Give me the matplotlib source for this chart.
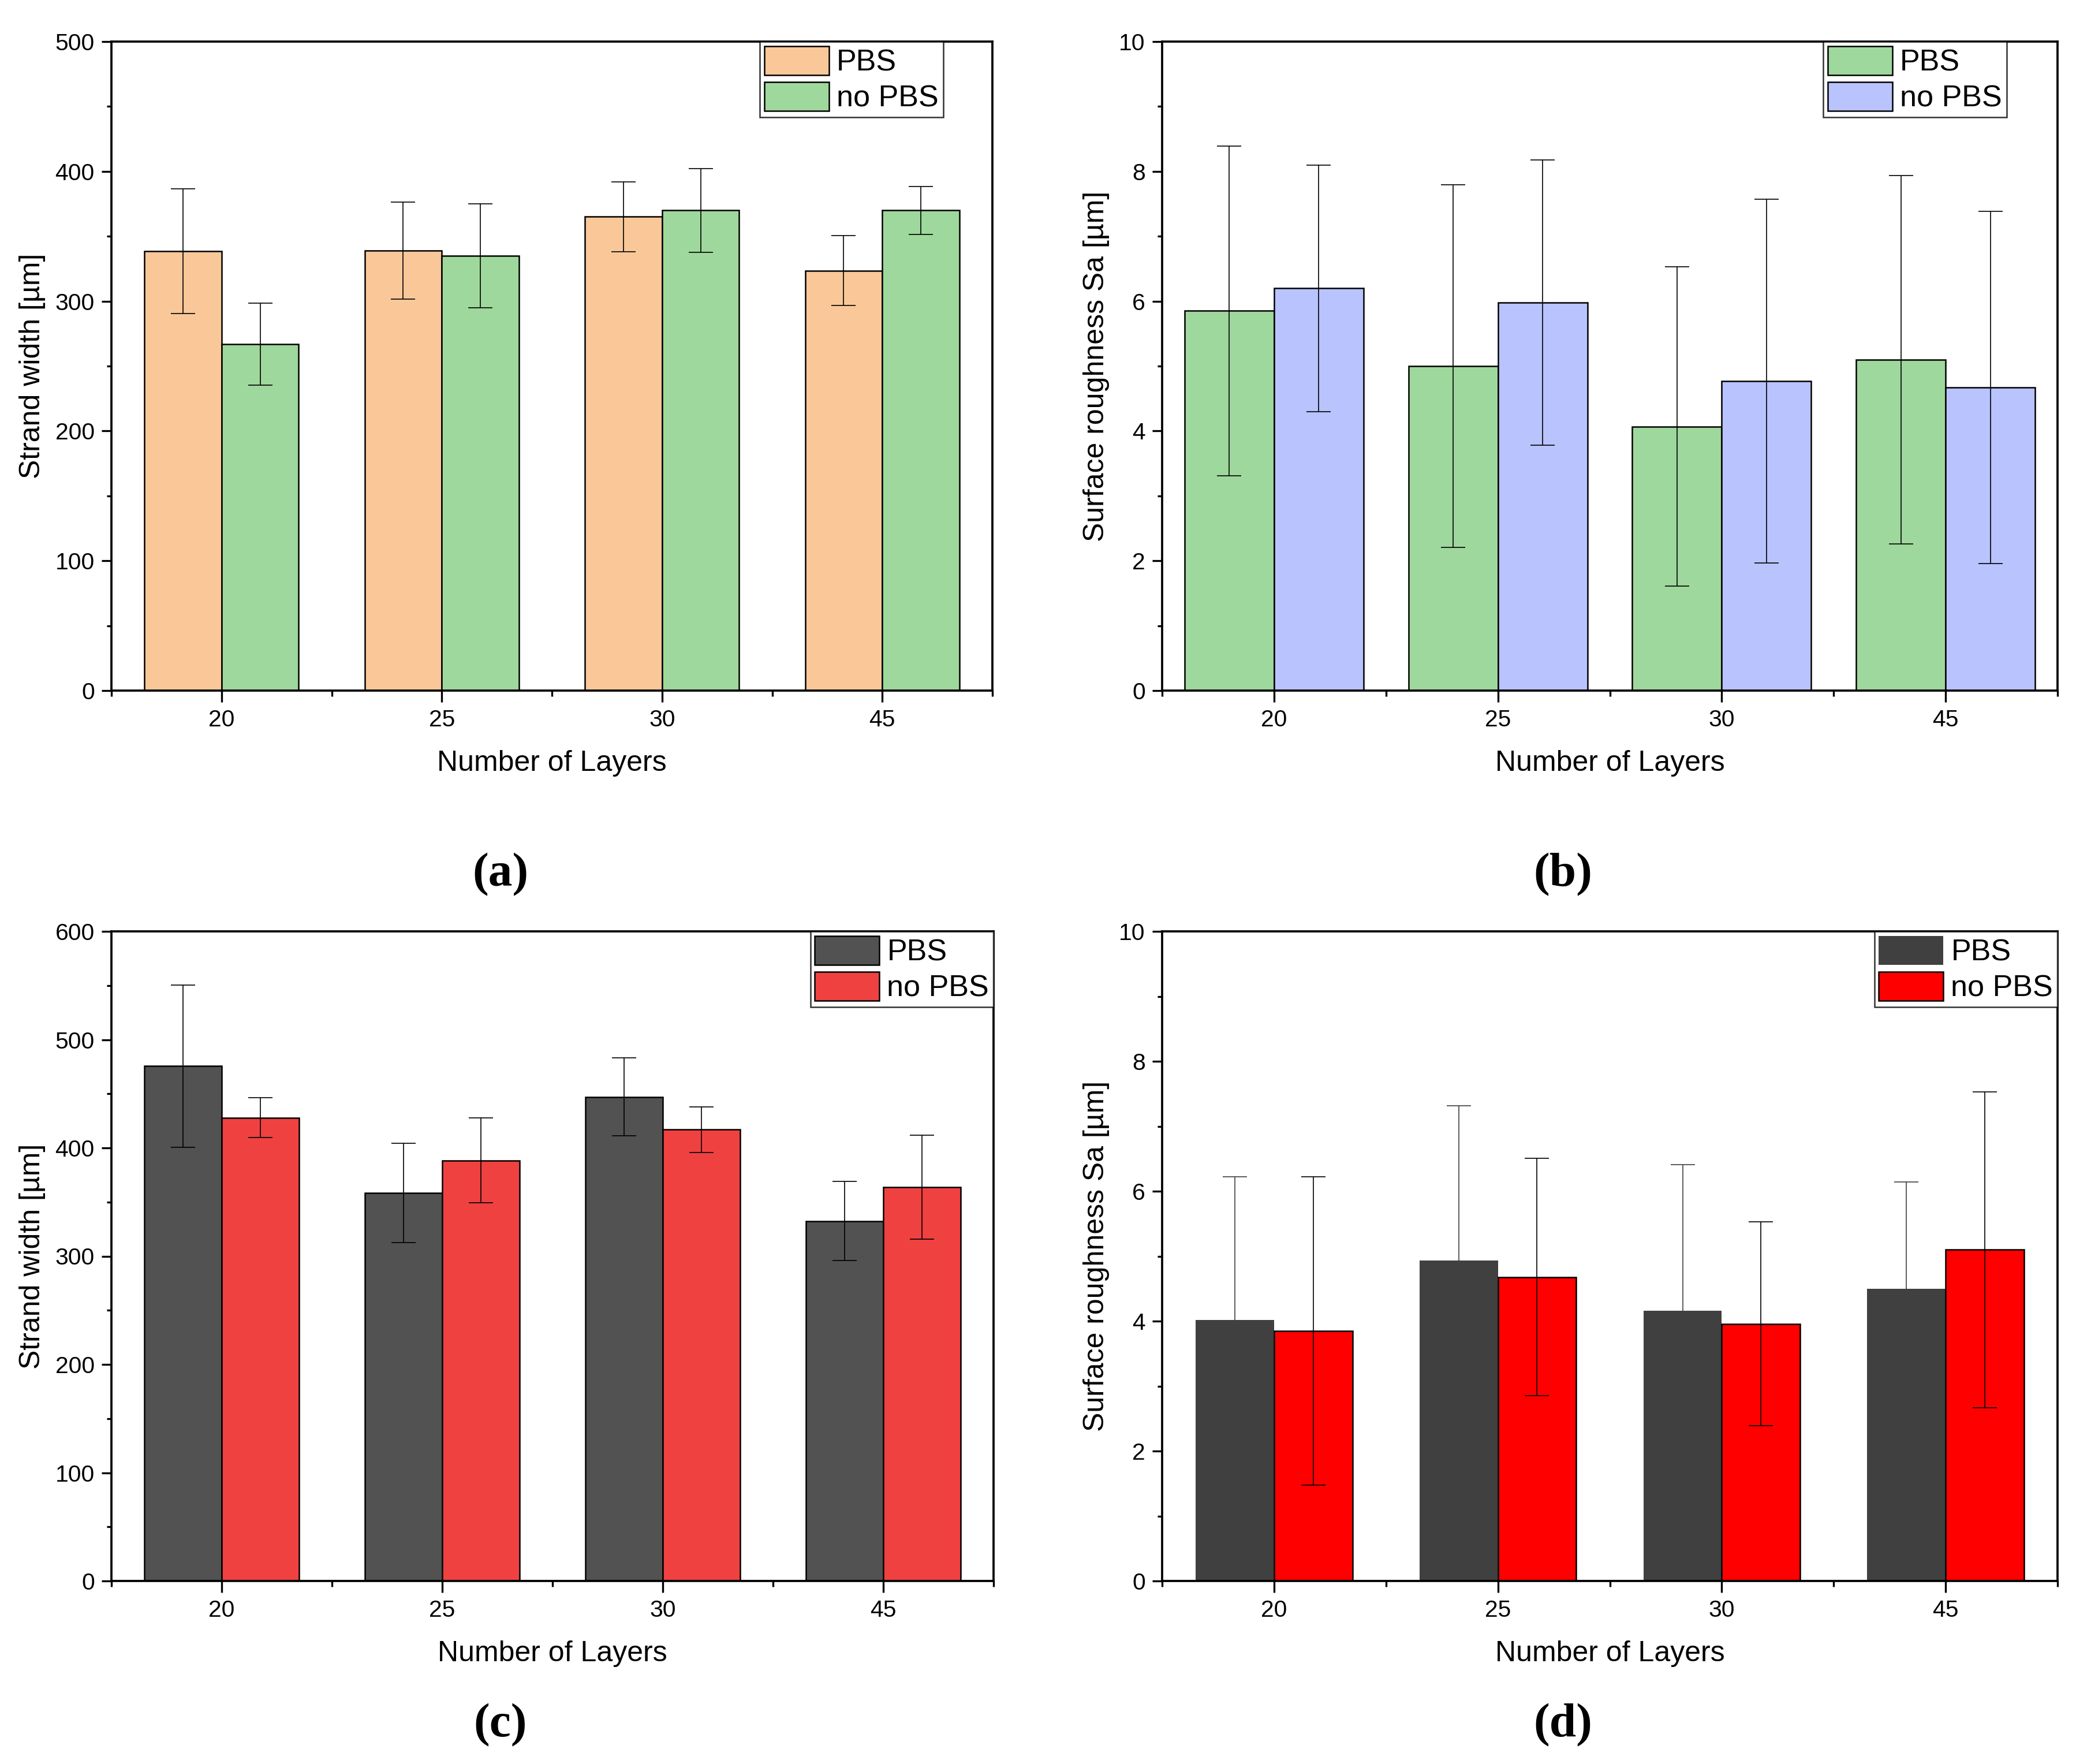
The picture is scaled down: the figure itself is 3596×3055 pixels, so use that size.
import matplotlib
matplotlib.use('Agg')
import matplotlib.pyplot as plt
import numpy as np

plt.rcParams['font.family'] = ['Liberation Sans', 'DejaVu Sans']

# number of layers (x categories)
layers = ['20', '25', '30', '45']

# (a) strand width, first material
width_pbs_a = [338.5, 339, 365, 323.5]
width_pbs_a_err = [48, 37.5, 27, 27]
width_nopbs_a = [267, 335, 370, 370]
width_nopbs_a_err = [31.7, 40, 32.3, 18.5]

# (b) surface roughness, first material
rough_pbs_b = [5.85, 5.0, 4.07, 5.10]
rough_pbs_b_err = [2.54, 2.79, 2.46, 2.84]
rough_nopbs_b = [6.20, 5.98, 4.77, 4.67]
rough_nopbs_b_err = [1.90, 2.20, 2.80, 2.71]

# (c) strand width, second material
width_pbs_c = [475.5, 358.5, 447, 332.5]
width_pbs_c_err = [75, 46, 36, 36.5]
width_nopbs_c = [428, 388.5, 417, 364]
width_nopbs_c_err = [18.5, 39, 21, 48]

# (d) surface roughness, second material
rough_pbs_d = [4.02, 4.93, 4.16, 4.50]
rough_pbs_d_err = [2.20, 2.39, 2.25, 1.64]
rough_nopbs_d = [3.85, 4.68, 3.96, 5.10]
rough_nopbs_d_err = [2.37, 1.83, 1.57, 2.43]

W, H = 3596, 3055
fig = plt.figure(figsize=(W / 300, H / 300), dpi=300)


def panel(rect, pbs, pbs_err, nopbs, nopbs_err, c_pbs, c_nopbs, ylim, ystep,
          ylabel, barw, leg_right, pbs_edge='black', pbs_ecolor='black'):
    ax = fig.add_axes(rect)
    x = np.arange(1, len(layers) + 1)
    ax.bar(x, pbs, width=-barw, align='edge', color=c_pbs,
           edgecolor=pbs_edge, linewidth=0.6, label='PBS', zorder=2)
    ax.bar(x, nopbs, width=barw, align='edge', color=c_nopbs,
           edgecolor='black', linewidth=0.6, label='no PBS', zorder=2)
    ax.errorbar(x - barw / 2, pbs, yerr=pbs_err, fmt='none', ecolor=pbs_ecolor,
                elinewidth=0.4, capsize=5, capthick=0.4, zorder=3)
    ax.errorbar(x + barw / 2, nopbs, yerr=nopbs_err, fmt='none', ecolor='black',
                elinewidth=0.4, capsize=5, capthick=0.4, zorder=3)

    ax.set_xlim(0.5, len(layers) + 0.5)
    ax.set_ylim(*ylim)
    ax.set_xticks(x)
    ax.set_xticklabels(layers)
    ax.set_xticks(np.arange(0.5, len(layers) + 1, 1.0), minor=True)
    ax.set_yticks(np.arange(ylim[0], ylim[1] + ystep / 2, ystep))
    ax.set_yticks(np.arange(ylim[0] + ystep / 2, ylim[1], ystep), minor=True)

    for s in ax.spines.values():
        s.set_linewidth(0.9)
    ax.tick_params(axis='both', which='both', direction='out', width=0.8,
                   labelsize=9.8, pad=3, top=False, right=False)
    ax.tick_params(axis='x', which='major', length=4.7)
    ax.tick_params(axis='x', which='minor', length=2.3)
    ax.tick_params(axis='y', which='major', length=4.0)
    ax.tick_params(axis='y', which='minor', length=1.9)

    ax.set_xlabel('Number of Layers', fontsize=12, labelpad=8)
    ax.set_ylabel(ylabel, fontsize=12, labelpad=4)

    leg = ax.legend(loc='upper right', bbox_to_anchor=(leg_right, 1.0),
                    fontsize=12.5, frameon=True, fancybox=False,
                    borderaxespad=0, borderpad=0.15, labelspacing=0.15,
                    handlelength=2.15, handleheight=1.12, handletextpad=0.25)
    leg.get_frame().set_edgecolor('black')
    leg.get_frame().set_linewidth(0.6)
    return ax


ax_a = [193 / W, 1 - 1196 / H, (1719 - 193) / W, (1196 - 72) / H]
ax_b = [2013 / W, 1 - 1196 / H, (3564 - 2013) / W, (1196 - 72) / H]
ax_c = [193 / W, 1 - 2738 / H, (1721 - 193) / W, (2738 - 1613) / H]
ax_d = [2013 / W, 1 - 2738 / H, (3564 - 2013) / W, (2738 - 1613) / H]

panel(ax_a, width_pbs_a, width_pbs_a_err, width_nopbs_a, width_nopbs_a_err,
      '#FAC898', '#9FD89C', (0, 500), 100, 'Strand width [µm]', 0.35, 0.944)
panel(ax_b, rough_pbs_b, rough_pbs_b_err, rough_nopbs_b, rough_nopbs_b_err,
      '#9FD89C', '#B9C3FD', (0, 10), 2, 'Surface roughness Sa [µm]', 0.40, 0.943)
panel(ax_c, width_pbs_c, width_pbs_c_err, width_nopbs_c, width_nopbs_c_err,
      '#525252', '#F04141', (0, 600), 100, 'Strand width [µm]', 0.35, 1.0)
panel(ax_d, rough_pbs_d, rough_pbs_d_err, rough_nopbs_d, rough_nopbs_d_err,
      '#404040', '#FF0000', (0, 10), 2, 'Surface roughness Sa [µm]', 0.35, 1.0,
      pbs_edge='none', pbs_ecolor='#404040')

# panel letters
for lab, xf, yf in [('(a)', 0.241, 0.504), ('(b)', 0.753, 0.504),
                    ('(c)', 0.241, 0.022), ('(d)', 0.753, 0.022)]:
    fig.text(xf, yf, lab, ha='center', va='center', fontsize=20,
             family='Liberation Serif', weight='bold')

fig.savefig('out.png', dpi=300)
